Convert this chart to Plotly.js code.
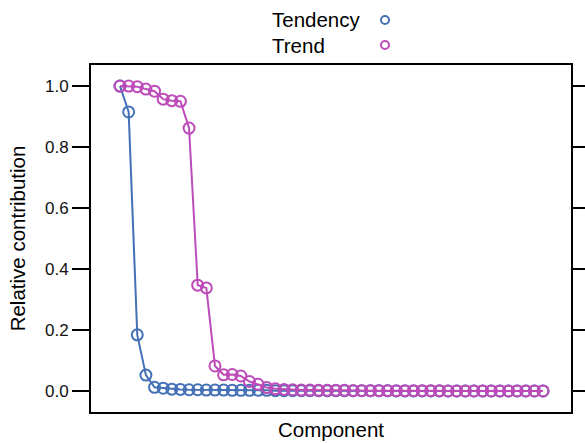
<!DOCTYPE html>
<html>
<head>
<meta charset="utf-8">
<script src="https://cdn.plot.ly/plotly-3.0.1.min.js"></script>
<style>html,body{margin:0;padding:0;background:#fff;}#chart{width:585px;height:443px;}</style>
</head>
<body>
<div id="chart"></div>
<script>
var components = [];
for (var i = 1; i <= 50; i++) components.push(i);

var tendency = [1.0, 0.915, 0.184, 0.052, 0.012, 0.009, 0.006, 0.005, 0.004, 0.004,
  0.003, 0.003, 0.003, 0.002, 0.002, 0.002, 0.002, 0.002, 0.001, 0.001,
  0.001, 0.001, 0.001, 0.001, 0.001, 0.001, 0.001, 0.001, 0.001, 0.001,
  0.001, 0.001, 0.0, 0.0, 0.0, 0.0, 0.0, 0.0, 0.0, 0.0,
  0.0, 0.0, 0.0, 0.0, 0.0, 0.0, 0.0, 0.0, 0.0, 0.0];

var trend = [1.0, 1.0, 0.998, 0.99, 0.983, 0.957, 0.952, 0.95, 0.862, 0.347,
  0.338, 0.082, 0.053, 0.054, 0.049, 0.031, 0.022, 0.011, 0.007, 0.005,
  0.004, 0.003, 0.003, 0.002, 0.002, 0.002, 0.002, 0.001, 0.001, 0.001,
  0.001, 0.001, 0.001, 0.001, 0.001, 0.001, 0.001, 0.001, 0.0, 0.0,
  0.0, 0.0, 0.0, 0.0, 0.0, 0.0, 0.0, 0.0, 0.0, 0.0];

var seriesNames = ['Tendency', 'Trend'];
var yTicks = [0.0, 0.2, 0.4, 0.6, 0.8, 1.0];
var yTickLabels = ['0.0', '0.2', '0.4', '0.6', '0.8', '1.0'];

var blue = '#4471b6';
var pink = '#bd4bb9';

function mk(y, name, col) {
  return {
    x: components, y: y, name: name, type: 'scatter', mode: 'lines+markers',
    line: {color: col, width: 2},
    marker: {symbol: 'circle-open', size: 11, color: col, line: {color: col, width: 2}},
    showlegend: false, hoverinfo: 'skip'
  };
}

var L = 91, R = 571, T = 65, B = 412;
function px(x) { return (x - L) / (R - L); }
function py(y) { return (B - y) / (B - T); }

var font = 'Liberation Sans, Arial, Helvetica, sans-serif';

var layout = {
  width: 585, height: 443,
  margin: {l: L, r: 585 - R, t: T, b: 443 - B},
  paper_bgcolor: '#fff', plot_bgcolor: '#fff',
  font: {family: font, color: '#000'},
  xaxis: {
    range: [-2.36, 53.24], showgrid: false, zeroline: false,
    showticklabels: false, ticks: '',
    showline: true, mirror: true, linecolor: '#000', linewidth: 2,
    title: {text: 'Component', font: {size: 20.5, family: font}, standoff: 10}
  },
  yaxis: {
    range: [-0.069, 1.069], showgrid: false, zeroline: false,
    tickvals: yTicks, ticktext: yTickLabels,
    ticks: 'outside', ticklen: 17, tickwidth: 2, tickcolor: '#000',
    tickfont: {size: 17, family: font, color: '#111'},
    showline: true, mirror: 'ticks', linecolor: '#000', linewidth: 2,
    title: {text: 'Relative contribution', font: {size: 20.5, family: font}, standoff: 14}
  },
  annotations: [
    {xref: 'paper', yref: 'paper', x: px(270), y: py(20), xanchor: 'left', yanchor: 'middle',
     text: seriesNames[0], showarrow: false, font: {size: 20.5, family: font}},
    {xref: 'paper', yref: 'paper', x: px(270), y: py(45), xanchor: 'left', yanchor: 'middle',
     text: seriesNames[1], showarrow: false, font: {size: 20.5, family: font}}
  ],
  shapes: [
    {type: 'circle', xref: 'paper', yref: 'paper', xsizemode: 'pixel', ysizemode: 'pixel',
     xanchor: px(385), yanchor: py(20), x0: -4, x1: 4, y0: -4, y1: 4,
     line: {color: blue, width: 2}},
    {type: 'circle', xref: 'paper', yref: 'paper', xsizemode: 'pixel', ysizemode: 'pixel',
     xanchor: px(385), yanchor: py(45), x0: -4, x1: 4, y0: -4, y1: 4,
     line: {color: pink, width: 2}}
  ]
};

Plotly.newPlot('chart', [mk(tendency, seriesNames[0], blue), mk(trend, seriesNames[1], pink)], layout,
  {staticPlot: true, displayModeBar: false});
</script>
</body>
</html>
